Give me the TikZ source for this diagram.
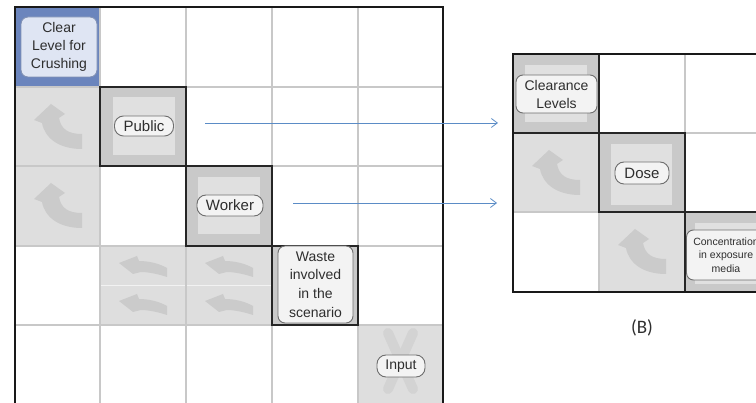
\documentclass[tikz,border=0pt]{standalone}
\usepackage{fontspec}
\setmainfont{Liberation Sans}
\newfontfamily\calib{Carlito}
\usetikzlibrary{arrows.meta}
\definecolor{gridgray}{HTML}{C8C8C8}
\definecolor{cellgray}{HTML}{C9C9C9}
\definecolor{innergray}{HTML}{E0E0E0}
\definecolor{lightcell}{HTML}{DEDEDE}
\definecolor{arrowgray}{HTML}{CBCBCB}
\definecolor{faintgray}{HTML}{D3D3D3}
\definecolor{blueA}{HTML}{6B85BD}
\definecolor{blueBox}{HTML}{DFE5F3}
\definecolor{blueEdge}{HTML}{8090B4}
\definecolor{linkblue}{HTML}{5B8CC6}
\definecolor{txt}{HTML}{2E2E2E}
\definecolor{pillfill}{HTML}{F3F3F3}
\definecolor{pilledge}{HTML}{6E6E6E}
\newcommand\bigarrowat[2]{\fill[arrowgray,shift={(#1,#2)}] (36,17) -- (50,27) -- (44,31) .. controls (46,42) and (53,47) .. (67,47) -- (67,62) .. controls (45,62) and (30,52) .. (27,36) -- (19,33) -- cycle;}
\newcommand\smallarrowat[2]{\fill[arrowgray,shift={(#1,#2)}] (19,17) -- (37,10) -- (39,15) .. controls (50,15) and (60,18) .. (67,22) -- (67,31) .. controls (58,28) and (48,26) .. (41,26) -- (33,28) -- cycle;}
\begin{document}
\begin{tikzpicture}[x=1pt,y=-1pt,
  gridline/.style={gridgray,line width=1.1pt},
  thickcell/.style={draw=black!85,line width=1.6pt},
  outer/.style={black!90,line width=2pt},
  pill/.style={draw=pilledge,fill=pillfill,line width=0.9pt,rounded corners=9pt,inner sep=0pt,text=txt,font=\fontsize{15}{18}\selectfont},
  tallbox/.style={draw=pilledge,fill=pillfill,line width=0.9pt,rounded corners=7pt,inner sep=0pt,text=txt,align=center},
  link/.style={linkblue,line width=0.8pt,-{Straight Barb[length=6pt,width=9pt]}}]
\useasboundingbox (0,0) rectangle (756,403);
\begin{scope}
\clip (0,0) rectangle (756,403);
% ---------- panel A fills
\fill[blueA] (15,7) rectangle (100,87);
\fill[lightcell] (15,87) rectangle (100,166);
\fill[lightcell] (15,166) rectangle (100,246);
\fill[lightcell] (100,246) rectangle (272,325);
\fill[lightcell] (358,325) rectangle (443,406);
\fill[cellgray] (100,87) rectangle (186,166);
\fill[cellgray] (186,166) rectangle (272,246);
\fill[cellgray] (272,246) rectangle (358,325);
\fill[innergray] (113,97) rectangle (175,155);
\fill[innergray] (198,177) rectangle (260,234);
% arrows A
\bigarrowat{15}{87}
\bigarrowat{15}{166}
\smallarrowat{100}{246}
\smallarrowat{100}{284}
\smallarrowat{186}{246}
\smallarrowat{186}{284}
\draw[white!90!gray,line width=0.8pt] (101,285) -- (271,285);
% input cell faint shape
\begin{scope}
\clip (358,325) rectangle (443,406);
\draw[faintgray,line width=10pt,line cap=round] (388,333) -- (413,389);
\draw[faintgray,line width=10pt,line cap=round] (413,333) -- (388,389);
\end{scope}
% ---------- panel B fills
\fill[cellgray] (513,54) rectangle (599,133);
\fill[lightcell] (513,133) rectangle (599,212);
\fill[cellgray] (599,133) rectangle (685,212);
\fill[lightcell] (599,212) rectangle (685,292);
\fill[cellgray] (685,212) rectangle (771,292);
\fill[innergray] (525,65) rectangle (587,122);
\fill[innergray] (611,144) rectangle (672,205);
\fill[innergray] (695,223) rectangle (765,284);
\bigarrowat{513}{133}
\bigarrowat{599}{212}
% ---------- grid lines
\foreach \x in {100,186,272,358} \draw[gridline] (\x,7) -- (\x,406);
\foreach \y in {87,166,246,325} \draw[gridline] (15,\y) -- (443,\y);
\foreach \x in {599,685} \draw[gridline] (\x,54) -- (\x,292);
\foreach \y in {133,212} \draw[gridline] (513,\y) -- (771,\y);
% ---------- thick cells
\draw[thickcell] (100,87) rectangle (186,166);
\draw[thickcell] (186,166) rectangle (272,246);
\draw[thickcell] (272,246) rectangle (358,325);
\draw[thickcell] (513,54) rectangle (599,133);
\draw[thickcell] (599,133) rectangle (685,212);
\draw[thickcell] (685,212) rectangle (771,292);
% ---------- outer borders
\draw[outer] (15,406) -- (15,7) -- (443,7) -- (443,406);
\draw[outer] (771,54) -- (513,54) -- (513,292) -- (771,292);
% ---------- text nodes
\node[tallbox,draw=blueEdge,fill=blueBox,minimum width=76pt,minimum height=60pt,font=\fontsize{14}{18}\selectfont] (clear) at (59,47) {Clear\\Level for\\Crushing};
\node[pill,minimum width=59pt,minimum height=20pt] (public) at (144,126) {Public};
\node[pill,minimum width=66pt,minimum height=21pt] (worker) at (230,205.5) {Worker};
\node[tallbox,minimum width=75pt,minimum height=77pt,font=\fontsize{14}{18.7}\selectfont] (waste) at (315.5,284.5) {Waste\\involved\\in the\\scenario};
\node[pill,minimum width=48pt,minimum height=22pt,font=\fontsize{14}{17}\selectfont] (input) at (401,366) {Input};
\node[tallbox,minimum width=81pt,minimum height=38pt,font=\fontsize{14}{18}\selectfont] (clearance) at (556.5,94) {Clearance\\Levels};
\node[pill,minimum width=54pt,minimum height=22pt] (dose) at (642,173) {Dose};
\node[tallbox,minimum width=79pt,minimum height=50pt,font=\fontsize{10.5}{13.5}\selectfont] (conc) at (726,255) {Concentration\\in exposure\\media};
\node[text=txt,font=\calib\fontsize{19}{22}\selectfont] (blabel) at (642,328) {(B)};
% ---------- links
\coordinate (s1) at (205,123);
\coordinate (e1) at (498,123);
\coordinate (s2) at (293,203);
\coordinate (e2) at (497,203);
\draw[link] (s1) -- (e1);
\draw[link] (s2) -- (e2);
\end{scope}
\end{tikzpicture}
\end{document}
